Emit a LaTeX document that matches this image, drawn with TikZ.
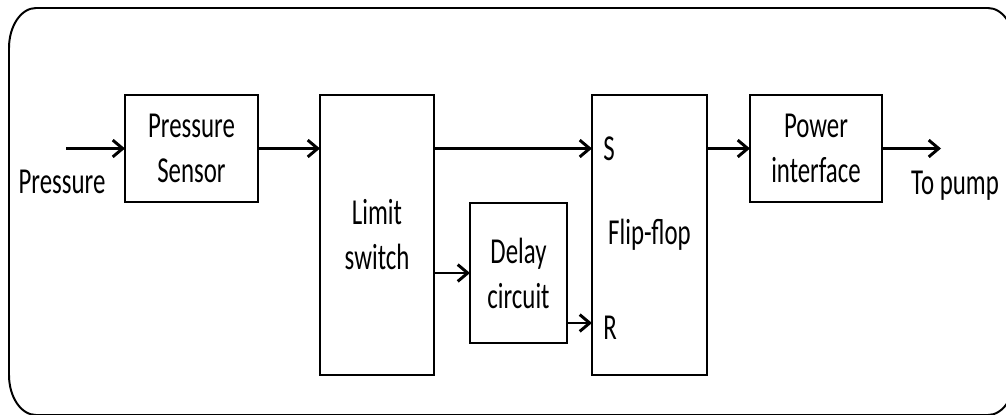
\documentclass[tikz,border=0pt]{standalone}
\usepackage{fontspec}
\setmainfont{Carlito}[FakeStretch=0.68]
\usetikzlibrary{arrows.meta, positioning}

\begin{document}
\begin{tikzpicture}[
    font=\fontsize{26}{32}\selectfont,
    block/.style={rectangle, draw, line width=2.1pt, align=center, minimum width=3.3cm, minimum height=2.675cm, inner sep=0pt, outer sep=0pt},
    tall/.style={block, minimum width=2.85cm, minimum height=7cm},
    line/.style={draw, line width=2.1pt, -{Straight Barb[length=0.25cm, width=0.42cm]}},
    frame/.style={draw, line width=1.4pt}
]
    \useasboundingbox (0,0) rectangle (25.15,10.35);
    \clip (0,0) rectangle (25.15,10.35);

    % Outer frame
    \draw [frame] (0.225,1.0) -- (0.225,9.15)
        arc[start angle=180, end angle=90, x radius=0.675, y radius=1.0] -- (24.7,10.15)
        arc[start angle=90, end angle=0, x radius=0.675, y radius=1.0] -- (25.375,0.975)
        arc[start angle=0, end angle=-90, x radius=0.675, y radius=1.0] -- (0.9,-0.025)
        arc[start angle=270, end angle=180, x radius=0.675, y radius=1.0] -- cycle;

    % Nodes
    \node (sensor) [block, minimum width=3.325cm] at (4.7875,6.6375) {Pressure\\Sensor};
    \node (limit) [tall, right=1.55cm of sensor.north east, anchor=north west] {Limit\\switch};
    \node (delay) [block, minimum width=2.425cm, minimum height=3.5cm, right=0.9cm of limit, yshift=-0.95cm] {Delay\\circuit};
    \node (ff) [tall, minimum width=2.875cm, right=3.95cm of limit.north east, anchor=north west] {Flip-flop};
    \node (power) [block, right=1.075cm of ff.north east, anchor=north west] {Power\\interface};

    \coordinate [left=1.475cm of sensor] (pin);
    \coordinate [right=1.475cm of power] (pout);
    \coordinate (rin) at ([yshift=0.5cm]delay.south east);

    \node (s) [anchor=west, inner sep=0.28cm] at (ff.west |- sensor.east) {S};
    \node (r) [anchor=west, inner sep=0.28cm, yshift=-0.12cm] at (ff.west |- rin) {R};
    \node (plabel) at ([xshift=-0.1cm, yshift=-0.84cm]pin) {Pressure};
    \node (tlabel) at ([xshift=0.35cm, yshift=-0.92cm]pout) {To pump};

    % Connections
    \draw [line] (pin) -- (sensor);
    \draw [line] (sensor) -- (limit.west |- sensor.east);
    \draw [line] (limit.east |- sensor.east) -- (ff.west |- sensor.east);
    \draw [line] (limit.east |- delay.west) -- (delay);
    \draw [line] (rin) -- (ff.west |- rin);
    \draw [line] (ff.east |- power.west) -- (power);
    \draw [line] (power) -- (pout);
\end{tikzpicture}
\end{document}
